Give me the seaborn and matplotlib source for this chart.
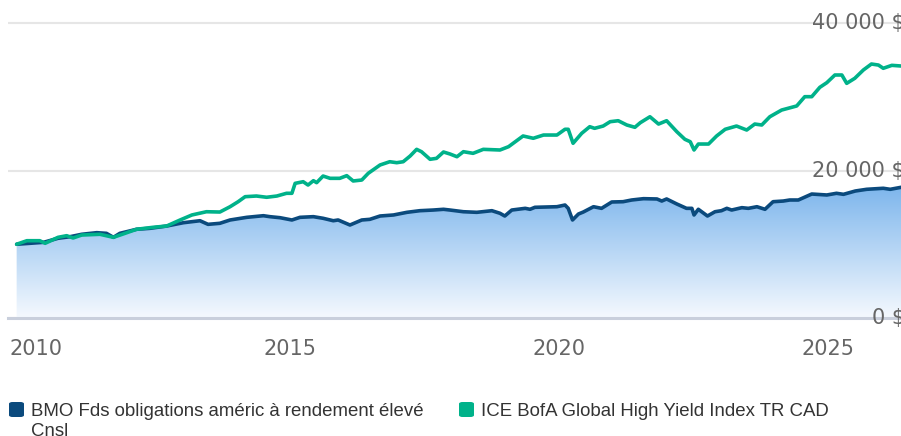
import numpy as np
import pandas as pd
import matplotlib
matplotlib.use("Agg")
import matplotlib.pyplot as plt
import matplotlib.transforms as mtransforms
from matplotlib.colors import LinearSegmentedColormap
from matplotlib.patches import FancyBboxPatch
import seaborn as sns

# Valeur d'un placement de 10 000 $
annees_fonds = [2009.91, 2010.16, 2010.41, 2010.68, 2010.90, 2011.12, 2011.40, 2011.58,
                2011.71, 2011.83, 2012.14, 2012.39, 2012.70, 2013.01, 2013.32, 2013.47,
                2013.69, 2013.88, 2014.19, 2014.50, 2014.62, 2014.81, 2015.03, 2015.18,
                2015.43, 2015.61, 2015.80, 2015.89, 2016.11, 2016.33, 2016.48, 2016.67,
                2016.92, 2017.17, 2017.41, 2017.66, 2017.85, 2017.97, 2018.22, 2018.47,
                2018.75, 2018.90, 2018.99, 2019.12, 2019.37, 2019.46, 2019.55, 2019.96,
                2020.11, 2020.17, 2020.25, 2020.36, 2020.45, 2020.64, 2020.79, 2020.98,
                2021.19, 2021.35, 2021.57, 2021.82, 2021.91, 2022.00, 2022.19, 2022.37,
                2022.47, 2022.51, 2022.59, 2022.76, 2022.90, 2023.02, 2023.12, 2023.21,
                2023.40, 2023.52, 2023.68, 2023.83, 2023.98, 2024.17, 2024.29, 2024.45,
                2024.70, 2024.98, 2025.16, 2025.29, 2025.51, 2025.72, 2026.03, 2026.16,
                2026.36]
valeurs_fonds = [10000, 10130, 10260, 10810, 11020, 11350, 11570, 11480,
                 10940, 11480, 12030, 12160, 12470, 12920, 13190, 12700,
                 12840, 13290, 13650, 13870, 13740, 13600, 13290, 13650,
                 13740, 13520, 13190, 13290, 12610, 13290, 13380, 13830,
                 13970, 14330, 14550, 14640, 14740, 14640, 14410, 14330,
                 14550, 14200, 13830, 14640, 14870, 14740, 15010, 15090,
                 15320, 14870, 13290, 14100, 14370, 15090, 14870, 15730,
                 15770, 16000, 16180, 16140, 15860, 16140, 15460, 14870,
                 14870, 13970, 14740, 13830, 14410, 14550, 14870, 14640,
                 14960, 14870, 15090, 14740, 15770, 15860, 16000, 16000,
                 16810, 16680, 16910, 16770, 17220, 17450, 17590, 17450,
                 17720]

annees_indice = [2009.91, 2010.10, 2010.34, 2010.44, 2010.68, 2010.84, 2010.96, 2011.12,
                 2011.46, 2011.71, 2011.89, 2012.14, 2012.45, 2012.70, 2012.95, 2013.17,
                 2013.44, 2013.69, 2013.88, 2014.03, 2014.16, 2014.37, 2014.56, 2014.75,
                 2014.93, 2015.03, 2015.09, 2015.24, 2015.33, 2015.43, 2015.49, 2015.61,
                 2015.74, 2015.92, 2016.05, 2016.17, 2016.33, 2016.45, 2016.67, 2016.85,
                 2016.98, 2017.10, 2017.23, 2017.35, 2017.44, 2017.60, 2017.72, 2017.85,
                 2017.97, 2018.10, 2018.22, 2018.40, 2018.59, 2018.90, 2019.06, 2019.33,
                 2019.52, 2019.71, 2019.96, 2020.11, 2020.17, 2020.26, 2020.42, 2020.57,
                 2020.66, 2020.82, 2020.95, 2021.10, 2021.26, 2021.41, 2021.51, 2021.69,
                 2021.85, 2022.00, 2022.19, 2022.34, 2022.44, 2022.51, 2022.59, 2022.78,
                 2022.93, 2023.09, 2023.30, 2023.49, 2023.64, 2023.77, 2023.92, 2024.14,
                 2024.42, 2024.57, 2024.70, 2024.85, 2024.98, 2025.13, 2025.26, 2025.35,
                 2025.50, 2025.66, 2025.81, 2025.94, 2026.03, 2026.19, 2026.36]
valeurs_indice = [10000, 10480, 10480, 10130, 10940, 11160, 10850, 11250,
                  11350, 10940, 11390, 12030, 12300, 12470, 13290, 13970,
                  14410, 14370, 15090, 15770, 16450, 16540, 16370, 16540,
                  16910, 16910, 18260, 18480, 18030, 18620, 18350, 19250,
                  18940, 18940, 19300, 18580, 18710, 19620, 20750, 21190,
                  21060, 21190, 21970, 22870, 22550, 21520, 21650, 22510,
                  22240, 21870, 22550, 22330, 22870, 22780, 23230, 24680,
                  24370, 24810, 24810, 25590, 25590, 23690, 25040, 25940,
                  25720, 26030, 26620, 26750, 26170, 25860, 26480, 27290,
                  26300, 26750, 25260, 24230, 23900, 22780, 23590, 23590,
                  24680, 25590, 26030, 25490, 26300, 26170, 27290, 28200,
                  28750, 30010, 30010, 31280, 31910, 32950, 32950, 31820,
                  32500, 33630, 34440, 34300, 33860, 34260, 34170]

noms_series = ["BMO Fds obligations améric à rendement élevé\nCnsl",
               "ICE BofA Global High Yield Index TR CAD"]
couleurs = ["#0b4a7d", "#00b28a"]
ticks_annees = [2010, 2015, 2020, 2025]
ticks_valeurs = [0, 20000, 40000]
labels_valeurs = ["0 $", "20 000 $", "40 000 $"]

sns.set_theme(style="white")
plt.rcParams["font.family"] = ["DejaVu Sans"]

df_fonds = pd.DataFrame({"annee": annees_fonds, "valeur": valeurs_fonds})
df_indice = pd.DataFrame({"annee": annees_indice, "valeur": valeurs_indice})

fig = plt.figure(figsize=(9.01, 4.36), dpi=100)
ax = fig.add_axes([8 / 901, 1 - 318 / 436, 893 / 901, 318 / 436])

x_min, x_max = 2009.749, 2026.36
y_max = 43120

# Remplissage en dégradé sous la courbe du fonds
poly = ax.fill_between(df_fonds["annee"], df_fonds["valeur"], 0,
                       facecolor="none", edgecolor="none")
cmap = LinearSegmentedColormap.from_list("bleu", ["#f5f9fe", "#7cb5ec"])
grad = np.linspace(1, 0, 256).reshape(-1, 1)
im = ax.imshow(grad, cmap=cmap, aspect="auto", origin="upper",
               extent=[x_min, x_max, 0, max(valeurs_fonds) + 300], zorder=1)
im.set_clip_path(poly.get_paths()[0], transform=ax.transData)

sns.lineplot(data=df_fonds, x="annee", y="valeur", color=couleurs[0],
             linewidth=2.6, ax=ax, zorder=3)
sns.lineplot(data=df_indice, x="annee", y="valeur", color=couleurs[1],
             linewidth=2.6, ax=ax, zorder=4)

ax.set_xlim(x_min, x_max)
ax.set_ylim(0, y_max)
ax.set_xlabel("")
ax.set_ylabel("")

# Grille horizontale
ax.set_yticks(ticks_valeurs)
ax.yaxis.grid(True, color="#e6e6e6", linewidth=1.5)
ax.set_axisbelow(True)
ax.tick_params(axis="y", length=0, labelleft=False)

for s in ["top", "left", "right"]:
    ax.spines[s].set_visible(False)
ax.spines["bottom"].set_color("#c9cfdc")
ax.spines["bottom"].set_linewidth(2.2)
ax.spines["bottom"].set_zorder(5)

ax.set_xticks(ticks_annees)
ax.set_xticklabels([str(a) for a in ticks_annees])
ax.tick_params(axis="x", length=14, width=1, color="#ccd6eb", pad=1,
               labelsize=15, labelcolor="#666666")

trans = mtransforms.blended_transform_factory(ax.transAxes, ax.transData)
for v, lab in zip(ticks_valeurs, labels_valeurs):
    ax.text(1.0045, v, lab, transform=trans, ha="right", va="center",
            fontsize=15, color="#666666", clip_on=False, zorder=6)

# Légende
legende_x = [9, 459]
for i, (nom, coul) in enumerate(zip(noms_series, couleurs)):
    x0 = legende_x[i] / 901
    fig.patches.append(FancyBboxPatch((x0, 1 - 417 / 436), 15 / 901, 15 / 436,
                                      boxstyle="round,pad=0,rounding_size=0.004",
                                      transform=fig.transFigure,
                                      facecolor=coul, edgecolor="none"))
    for j, ligne in enumerate(nom.split("\n")):
        fig.text((legende_x[i] + 22) / 901, 1 - (416 + 19.5 * j) / 436, ligne,
                 ha="left", va="baseline", fontsize=13.4, color="#333333",
                 family=["Liberation Sans", "DejaVu Sans"])

# le premier libellé (2010) est décalé pour ne pas sortir du cadre
premier = ax.get_xticklabels()[0]
premier.set_transform(premier.get_transform()
                      + mtransforms.ScaledTranslation(14.5 / 100, 0, fig.dpi_scale_trans))

fig.savefig("out.png", dpi=100)
plt.close(fig)
